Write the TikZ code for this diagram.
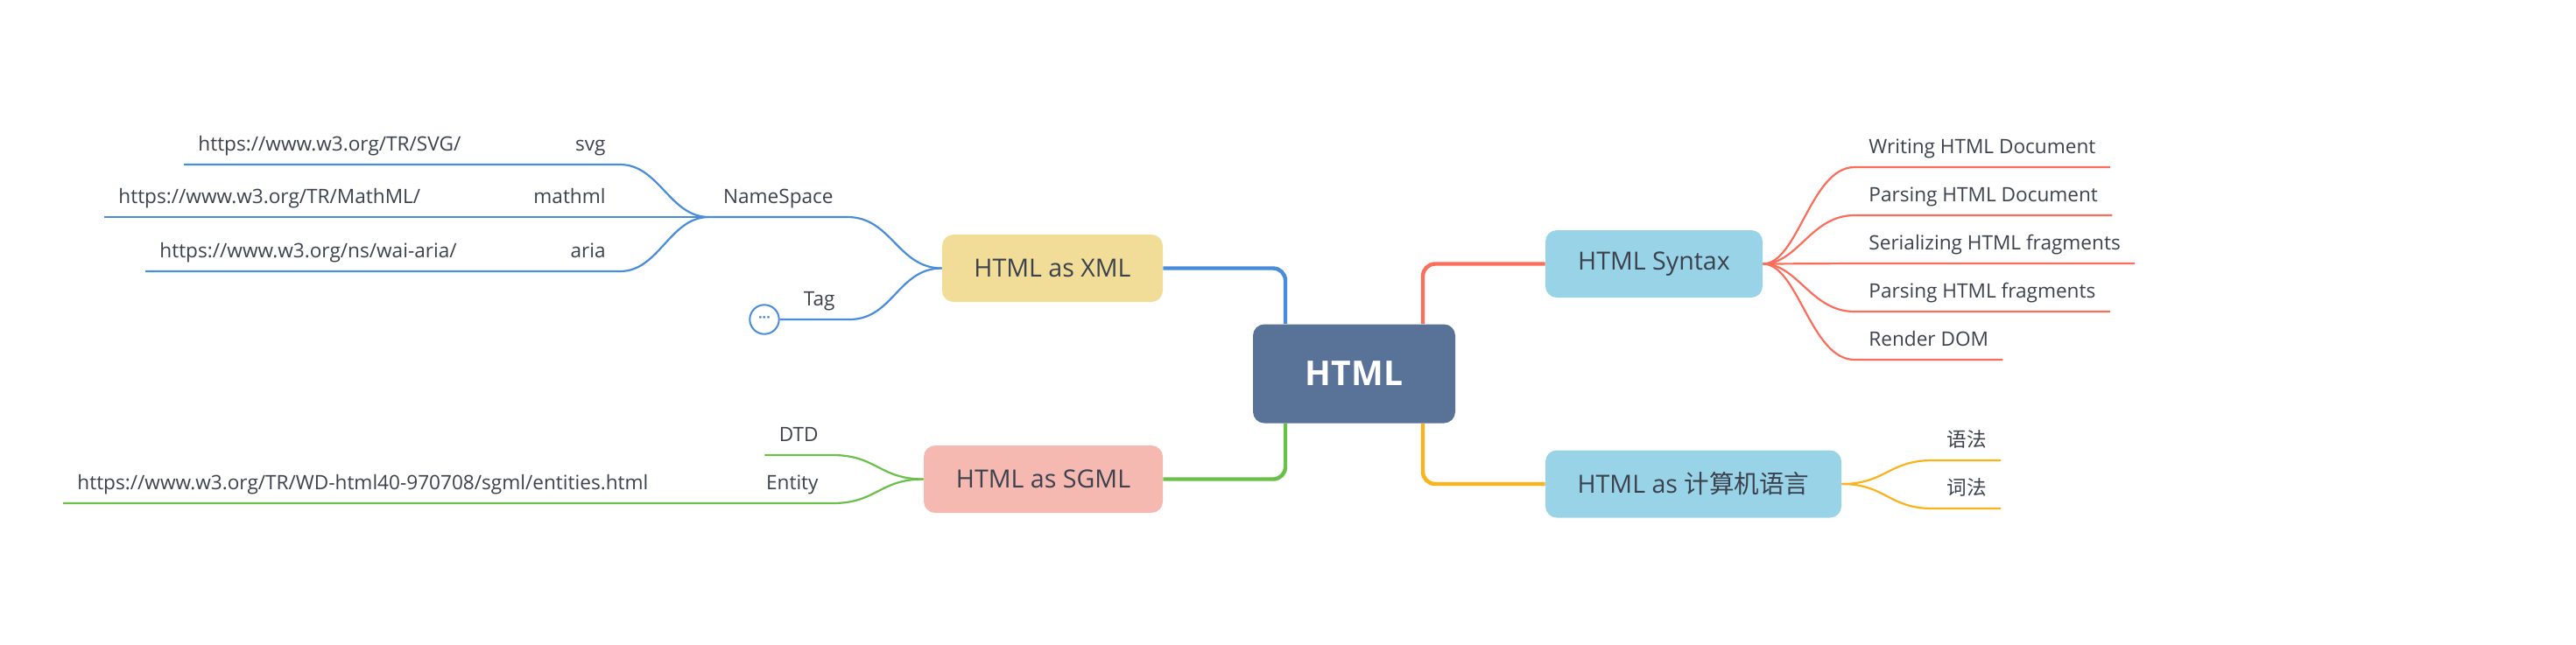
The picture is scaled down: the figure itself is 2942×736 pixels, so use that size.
\documentclass[tikz,border=0pt]{standalone}
\usepackage{fontspec}
\setmainfont{Open Sans}
\newfontfamily\cjk{Noto Sans CJK SC}
\definecolor{rootc}{RGB}{89,114,152}
\definecolor{bluebox}{RGB}{153,211,231}
\definecolor{xmlc}{RGB}{241,221,152}
\definecolor{sgmlc}{RGB}{245,185,178}
\definecolor{redl}{RGB}{250,110,90}
\definecolor{orl}{RGB}{252,178,26}
\definecolor{bll}{RGB}{74,140,220}
\definecolor{grl}{RGB}{107,192,75}
\definecolor{txt}{RGB}{60,66,77}
\pgfdeclarelayer{bg}
\pgfdeclarelayer{lines}
\pgfsetlayers{bg,lines,main}
\begin{document}
\begin{tikzpicture}[x=0.5pt,y=-0.5pt,
  box/.style={rounded corners=6.5pt, minimum height=38.5pt, inner sep=0pt, text=txt, font=\fontsize{14.3}{16}\selectfont},
  leaf/.style={inner xsep=8pt, inner ysep=7.5pt, text depth=0pt, text=txt, font=\fontsize{11.3}{13}\selectfont},
  cjkleaf/.style={leaf, font=\cjk\fontsize{11.3}{13}\selectfont},
  trunk/.style={line width=2.2pt, rounded corners=7pt},
  twig/.style={line width=1.1pt},
]
\begin{pgfonlayer}{bg}
\fill[white] (0,0) rectangle (2942,736);
\end{pgfonlayer}
\useasboundingbox (0,0) rectangle (2942,736);

% main nodes
\node[box, fill=rootc, minimum width=115.5pt, minimum height=56.5pt, text=white, font=\fontsize{19.5}{22}\selectfont\bfseries] (root) at (1546.5,427) {HTML};
\node[box, fill=bluebox, minimum width=124pt] (syn) at (1889,301.5) {HTML Syntax};
\node[box, fill=bluebox, minimum width=169pt] (cl) at (1934,553) {HTML as {\cjk 计算机语言}};
\node[box, fill=xmlc, minimum width=126pt] (xml) at (1202,306.5) {HTML as XML};
\node[box, fill=sgmlc, minimum width=136.5pt] (sgml) at (1191.5,547.5) {HTML as SGML};

% leaves right
\node[leaf, anchor=south west] (w1) at (2118,191) {Writing HTML Document};
\node[leaf, anchor=south west] (w2) at (2118,246) {Parsing HTML Document};
\node[leaf, anchor=south west] (w3) at (2118,301) {Serializing HTML fragments};
\node[leaf, anchor=south west] (w4) at (2118,356) {Parsing HTML fragments};
\node[leaf, anchor=south west] (w5) at (2118,411) {Render DOM};
\node[cjkleaf, anchor=south west] (c1) at (2207,526) {语法};
\node[cjkleaf, anchor=south west] (c2) at (2207,581) {词法};

% leaves left
\node[leaf, anchor=south east] (ns) at (968,248) {NameSpace};
\node[leaf, anchor=south east] (svg) at (708,188) {svg};
\node[leaf, anchor=south east] (mm) at (708,248) {mathml};
\node[leaf, anchor=south east] (aria) at (708,310) {aria};
\node[leaf, anchor=south west] (u1) at (210,188) {https://www.w3.org/TR/SVG/};
\node[leaf, anchor=south west] (u2) at (119,248) {https://www.w3.org/TR/MathML/};
\node[leaf, anchor=south west] (u3) at (166,310) {https://www.w3.org/ns/wai-aria/};
\node[leaf, anchor=south east] (tag) at (970,365) {Tag};
\node[circle, draw=bll, line width=1pt, fill=white, minimum size=16.7pt, inner sep=0pt, text=bll, font=\fontsize{8}{8}\selectfont\bfseries] (dots) at (873,365) {···};
\node[leaf, anchor=south east] (dtd) at (951,520) {DTD};
\node[leaf, anchor=south east] (ent) at (951,575) {Entity};
\node[leaf, anchor=south west] (u4) at (72,575) {https://www.w3.org/TR/WD-html40-970708/sgml/entities.html};

\begin{pgfonlayer}{lines}
% trunks
\draw[trunk, bll] ([xshift=-39.25pt]root.north) |- (xml.east);
\draw[trunk, grl] ([xshift=-39.25pt]root.south) |- (sgml.east);
\draw[trunk, redl] ([xshift=39.25pt]root.north) |- (syn.west);
\draw[trunk, orl] ([xshift=39.25pt]root.south) |- (cl.west);

% syntax twigs
\draw[twig, redl] (syn.east) .. controls +(40,0) and +(-50,0) .. (w1.south west) -- (w1.south east);
\draw[twig, redl] (syn.east) .. controls +(40,0) and +(-50,0) .. (w2.south west) -- (w2.south east);
\draw[twig, redl] (syn.east) -- (w3.south west) -- (w3.south east);
\draw[twig, redl] (syn.east) .. controls +(40,0) and +(-50,0) .. (w4.south west) -- (w4.south east);
\draw[twig, redl] (syn.east) .. controls +(40,0) and +(-50,0) .. (w5.south west) -- (w5.south east);

% cl twigs
\draw[twig, orl] (cl.east) .. controls +(50,0) and +(-50,0) .. (c1.south west) -- (c1.south east);
\draw[twig, orl] (cl.east) .. controls +(50,0) and +(-50,0) .. (c2.south west) -- (c2.south east);

% xml twigs
\draw[twig, bll] (xml.west) .. controls +(-50,0) and +(50,0) .. (ns.south east) -- (ns.south west);
\draw[twig, bll] (ns.south west) .. controls +(-45,0) and +(45,0) .. (svg.south east) -- (u1.south west);
\draw[twig, bll] (ns.south west) -- (u2.south west);
\draw[twig, bll] (ns.south west) .. controls +(-45,0) and +(45,0) .. (aria.south east) -- (u3.south west);
\draw[twig, bll] (xml.west) .. controls +(-50,0) and +(50,0) .. (tag.south east) -- (dots.east);

% sgml twigs
\draw[twig, grl] (sgml.west) .. controls +(-50,0) and +(50,0) .. (dtd.south east) -- (dtd.south west);
\draw[twig, grl] (sgml.west) .. controls +(-50,0) and +(50,0) .. (ent.south east) -- (u4.south west);
\end{pgfonlayer}
\end{tikzpicture}
\end{document}
